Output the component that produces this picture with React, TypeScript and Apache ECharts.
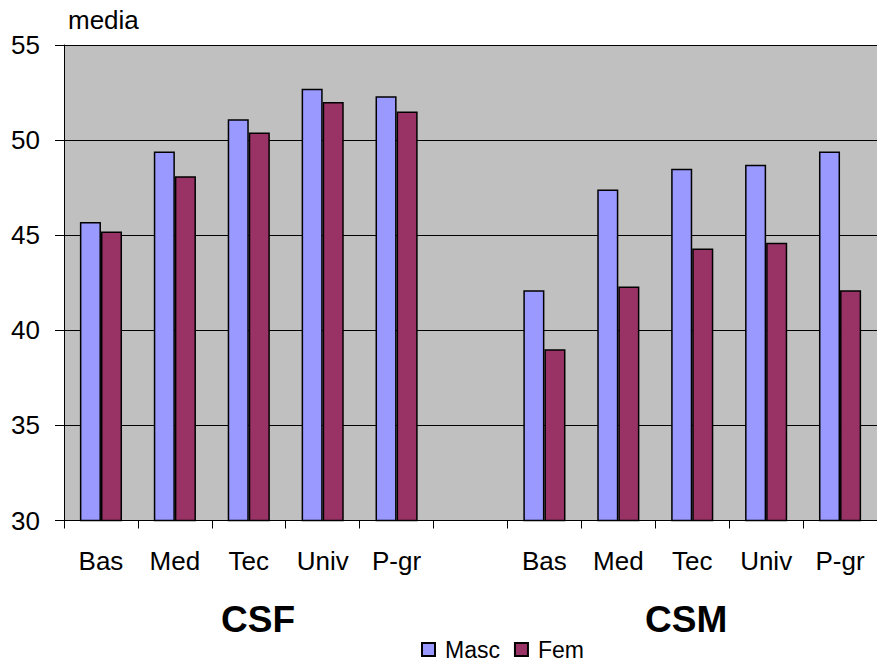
import React, { useEffect, useRef } from "react";
import * as echarts from "echarts";

const categories = ["Bas", "Med", "Tec", "Univ", "P-gr", "", "Bas", "Med", "Tec", "Univ", "P-gr"];
const masc = [45.7, 49.4, 51.1, 52.7, 52.3, null, 42.1, 47.4, 48.5, 48.7, 49.4];
const fem = [45.2, 48.1, 50.4, 52.0, 51.5, null, 39.0, 42.3, 44.3, 44.6, 42.1];
const groupLabels = ["CSF", "CSM"];
const yAxisTitle = "media";
const yTicks = { min: 30, max: 55, interval: 5 };

export default function App() {
  const ref = useRef<HTMLDivElement>(null);
  useEffect(() => {
    if (!ref.current) return;
    const chart = echarts.init(ref.current, null, { renderer: "svg" });
    const font = "Liberation Sans, Arial, sans-serif";
    chart.setOption({
      animation: false,
      backgroundColor: "#ffffff",
      textStyle: { fontFamily: font },
      grid: {
        left: 64,
        top: 45,
        width: 819.5,
        height: 475.5,
        show: true,
        backgroundColor: "#C0C0C0",
        borderWidth: 0,
      },
      legend: {
        top: 633,
        left: 416,
        padding: 5,
        itemWidth: 13,
        itemHeight: 13,
        itemGap: 14,
        icon: "rect",
        textStyle: { fontSize: 23, color: "#000", fontFamily: font, padding: [0, 0, 0, 5] },
        data: ["Masc", "Fem"],
      },
      xAxis: {
        type: "category",
        data: categories,
        axisLine: { show: true, lineStyle: { color: "#000", width: 1 } },
        axisTick: { show: true, length: 8, lineStyle: { color: "#000" } },
        axisLabel: { color: "#000", fontSize: 26, margin: 27, fontFamily: font, interval: 0 },
        splitLine: { show: false },
      },
      yAxis: {
        type: "value",
        min: yTicks.min,
        max: yTicks.max,
        interval: yTicks.interval,
        axisLine: { show: true, lineStyle: { color: "#000", width: 1 } },
        axisTick: { show: true, length: 9, lineStyle: { color: "#000" } },
        axisLabel: { color: "#000", fontSize: 26, margin: 24, fontFamily: font },
        splitLine: { show: true, lineStyle: { color: "#000", width: 1 } },
      },
      series: [
        {
          name: "Masc",
          type: "bar",
          data: masc,
          barGap: "0%",
          barCategoryGap: "43%",
          itemStyle: { color: "#9999FF", borderColor: "#000", borderWidth: 1.5 },
        },
        {
          name: "Fem",
          type: "bar",
          data: fem,
          itemStyle: { color: "#993366", borderColor: "#000", borderWidth: 1.5 },
        },
      ],
      graphic: [
        {
          type: "text",
          left: 68,
          top: 7,
          style: { text: yAxisTitle, fontSize: 26, fill: "#000", fontFamily: font },
        },
        {
          type: "text",
          left: 221,
          top: 601,
          style: { text: groupLabels[0], fontSize: 37, fontWeight: "bold", fill: "#000", fontFamily: font },
        },
        {
          type: "text",
          left: 645,
          top: 601,
          style: { text: groupLabels[1], fontSize: 37, fontWeight: "bold", fill: "#000", fontFamily: font },
        },
      ],
    });
    return () => chart.dispose();
  }, []);
  return <div ref={ref} style={{ width: 877, height: 662, position: "absolute", left: 0, top: 0 }} />;
}
